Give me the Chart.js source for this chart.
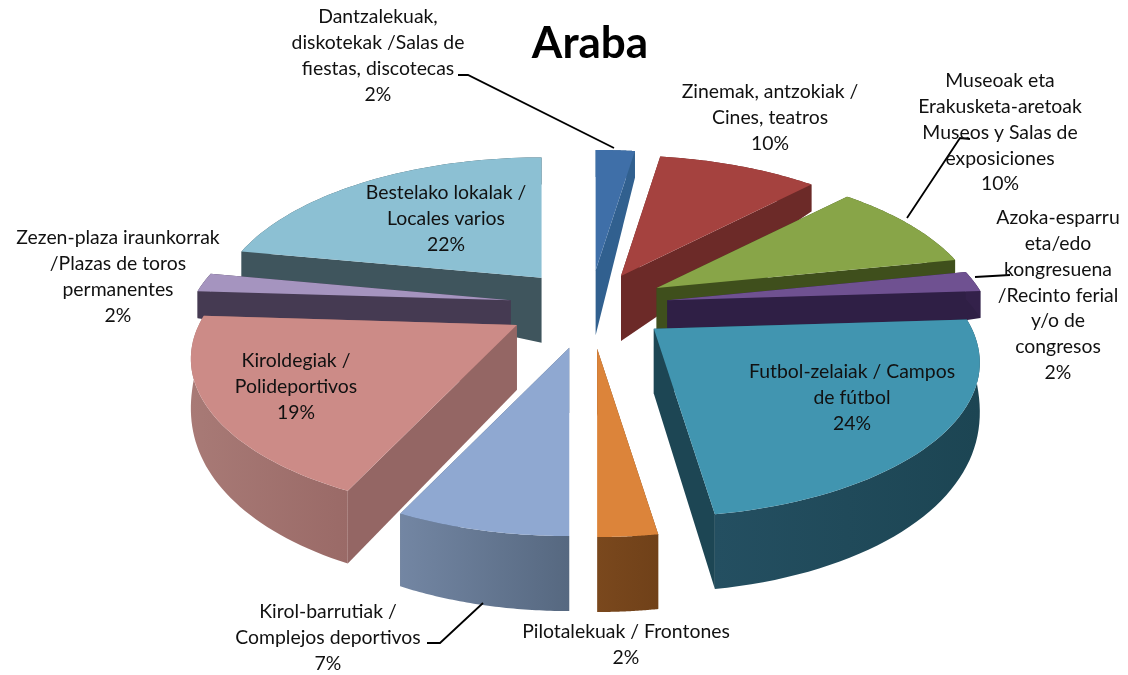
<!DOCTYPE html>
<html><head><meta charset="utf-8">
<style>html,body{margin:0;padding:0;background:#fff}#w{width:1128px;height:675px}</style>
<script src="https://cdn.jsdelivr.net/npm/chart.js@4"></script></head>
<body><div id="w"><canvas id="c" width="1128" height="675"></canvas></div>
<script>
const chartTitle = 'Araba';
const categories = [
  ['Dantzalekuak,','diskotekak /Salas de','fiestas, discotecas'],
  ['Zinemak, antzokiak /','Cines, teatros'],
  ['Museoak eta','Erakusketa-aretoak','Museos y Salas de','exposiciones'],
  ['Azoka-esparru','eta/edo','kongresuena','/Recinto ferial','y/o de','congresos'],
  ['Futbol-zelaiak / Campos','de fútbol'],
  ['Pilotalekuak / Frontones'],
  ['Kirol-barrutiak /','Complejos deportivos'],
  ['Kiroldegiak /','Polideportivos'],
  ['Zezen-plaza iraunkorrak','/Plazas de toros','permanentes'],
  ['Bestelako lokalak /','Locales varios']
];
const values = [2.4,9.8,9.6,2.2,23.6,2.4,7,19,2,22];

// styles
const topColors  = ['#3f6fa8','#a5423f','#88a548','#6f5191','#4195b0','#dc843a','#8fa8d1','#cc8b87','#a594bf','#8cc0d3'];
const cutColors  = ['#31608f','#6c2a28','#3f4f1c','#2f1f45','#1d4654','#77451c','#56677f','#946664','#453a52','#3f555d'];
const rimFrom    = ['#31608f','#6c2a28','#3f4f1c','#33214a','#244f61','#7a481d','#7386a3','#a87a76','#453a52','#3f555d'];
const rimTo      = ['#31608f','#6c2a28','#3f4f1c','#33214a','#1c4553','#704119','#566880','#9a6a67','#453a52','#3f555d'];
const explode    = [75,70,76,78,82,95,95,85,80,76];
const labelX     = [378,770,1000,1058,852,626,328,296,118,446];
const labelY     = [17,92,81,218,372,632,612,361,238,193];
const lineStep   = 25.8;
const leaders = [
  [[458,75],[468,75],[614,148]],
  [[907,218],[960,138],[970,139]],
  [[975,277],[1010,275]],
  [[427,643],[440,643],[483,603]]
];
const SQUASH = 0.462, PERSP = 0.22;

function unit(a){ const u=Math.cos(a), v=Math.sin(a), s=1/(1-PERSP*v); return [u*s, v*s*SQUASH, u, v]; }
function depth(u,v,r2){
  const rim = v<=0 ? 27 : 27+48*Math.sqrt(v);
  return (1-r2)*65 + r2*rim;
}

const pie3d = {
  id:'pie3d',
  beforeDatasetDraw(chart,args){
    const ctx=chart.ctx, meta=chart.getDatasetMeta(args.index), n=48;
    const items=meta.data.map((arc,i)=>{
      const p=arc.getProps(['x','y','startAngle','endAngle','outerRadius']);
      const mid=(p.startAngle+p.endAngle)/2, off=arc.options.offset||0;
      const tx=p.x+Math.cos(mid)*off, ty=p.y+Math.sin(mid)*off*SQUASH;
      const pts=[];
      for(let k=0;k<=n;k++){
        const a=p.startAngle+(p.endAngle-p.startAngle)*k/n, q=unit(a);
        const x=tx+q[0]*p.outerRadius, y=ty+q[1]*p.outerRadius;
        pts.push([x,y,y+depth(q[2],q[3],1)]);
      }
      return {i,mid,tx,ty,pts};
    }).sort((a,b)=>Math.sin(a.mid)-Math.sin(b.mid));
    ctx.save();
    items.forEach(it=>{
      const {i,tx,ty,pts}=it, tb=ty+65, first=pts[0], last=pts[n];
      // cut faces, the one whose rim end lies higher first
      [first,last].sort((a,b)=>a[1]-b[1]).forEach(e=>{
        ctx.beginPath();
        ctx.moveTo(tx,ty);ctx.lineTo(e[0],e[1]);ctx.lineTo(e[0],e[2]);ctx.lineTo(tx,tb);ctx.closePath();
        ctx.fillStyle=cutColors[i];ctx.fill();
      });
      // outer wall
      const xs=pts.map(q=>q[0]), g=ctx.createLinearGradient(Math.min(...xs),0,Math.max(...xs),0);
      g.addColorStop(0,rimFrom[i]);
      g.addColorStop(1,rimTo[i]);
      ctx.beginPath();
      pts.forEach((q,k)=>k?ctx.lineTo(q[0],q[1]):ctx.moveTo(q[0],q[1]));
      for(let k=n;k>=0;k--)ctx.lineTo(pts[k][0],pts[k][2]);
      ctx.closePath();ctx.fillStyle=g;ctx.fill();
      // top face
      ctx.beginPath();ctx.moveTo(tx,ty);
      pts.forEach(q=>ctx.lineTo(q[0],q[1]));
      ctx.closePath();ctx.fillStyle=topColors[i];ctx.fill();
    });
    ctx.restore();
    return false;
  },
  afterDatasetsDraw(chart){
    const ctx=chart.ctx;
    ctx.save();
    ctx.strokeStyle='#000';ctx.lineWidth=1.8;
    leaders.forEach(l=>{ctx.beginPath();l.forEach((q,k)=>k?ctx.lineTo(q[0],q[1]):ctx.moveTo(q[0],q[1]));ctx.stroke();});
    ctx.fillStyle='#111';ctx.font='19.4px Lato';ctx.textAlign='center';ctx.textBaseline='middle';
    categories.forEach((ls,i)=>{
      [...ls,Math.round(values[i])+'%'].forEach((t,k)=>ctx.fillText(t,labelX[i],labelY[i]+k*lineStep));
    });
    ctx.restore();
  }
};

new Chart(document.getElementById('c'),{
  type:'pie',
  data:{labels:categories.map(l=>l.join(' ')),datasets:[{data:values,backgroundColor:topColors,offset:explode,borderWidth:0,radius:318}]},
  options:{
    responsive:false,animation:false,
    layout:{padding:{left:52,right:0,top:0,bottom:135}},
    plugins:{
      legend:{display:false},tooltip:{enabled:false},
      title:{display:true,text:chartTitle,fullSize:false,color:'#000',font:{family:'Lato',size:44,weight:'bold'},padding:{top:17,bottom:0}}
    }
  },
  plugins:[pie3d]
});
</script></body></html>
